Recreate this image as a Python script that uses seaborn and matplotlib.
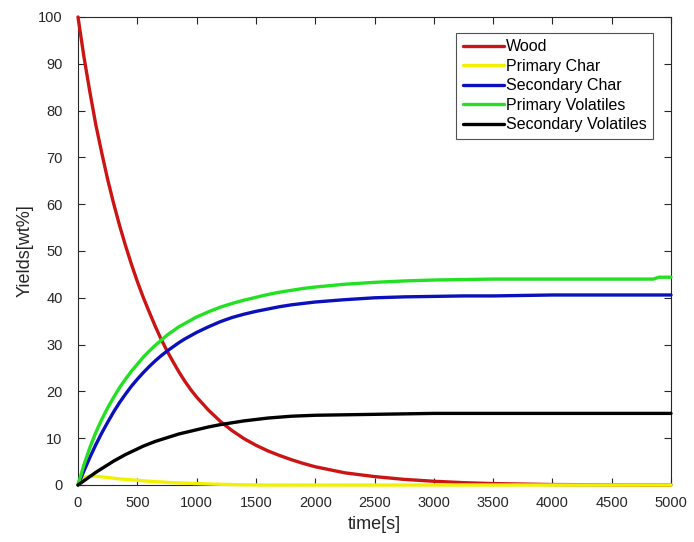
import matplotlib
matplotlib.use("Agg")
import matplotlib.pyplot as plt
import seaborn as sns
import pandas as pd

# Sampling times [s]
time_s = [0, 50, 100, 150, 200, 250, 300, 350, 400, 450, 500, 550, 600, 650,
          700, 750, 800, 850, 900, 950, 1000,
          1100, 1200, 1300, 1400, 1500, 1600, 1700, 1800, 1900, 2000,
          2250, 2500, 2750, 3000, 3250, 3500, 4000, 4500, 4850, 4900, 5000]

# Product yields [wt%]
wood = [100, 91.5, 84.0, 77.0, 71.0, 65.3, 60.2, 55.5, 51.2, 47.2, 43.5,
        40.1, 37.0, 34.0, 31.2, 28.7, 26.4, 24.2, 22.2, 20.4, 18.8,
        16.0, 13.6, 11.6, 9.9, 8.5, 7.3, 6.3, 5.4, 4.6, 3.9,
        2.6, 1.8, 1.2, 0.8, 0.5, 0.3, 0.1, 0.03, 0, 0, 0]
primary_char = [0, 1.6, 1.9, 1.85, 1.75, 1.6, 1.45, 1.3, 1.2, 1.1, 1.0,
                0.9, 0.8, 0.72, 0.65, 0.57, 0.5, 0.45, 0.4, 0.35, 0.3,
                0.22, 0.15, 0.1, 0.05, 0.02, 0, 0, 0, 0, 0,
                0, 0, 0, 0, 0, 0, 0, 0, 0, 0, 0]
secondary_char = [0, 3.0, 5.9, 8.6, 11.1, 13.4, 15.6, 17.6, 19.4, 21.1, 22.6,
                  24.0, 25.3, 26.5, 27.6, 28.6, 29.5, 30.4, 31.2, 31.9, 32.6,
                  33.8, 34.9, 35.8, 36.5, 37.1, 37.6, 38.1, 38.5, 38.8, 39.1,
                  39.6, 40.0, 40.2, 40.3, 40.4, 40.4, 40.6, 40.6, 40.6, 40.6,
                  40.6]
primary_volatiles = [0, 4.3, 8.0, 11.2, 14.0, 16.5, 18.7, 20.8, 22.6, 24.3,
                     25.8, 27.3, 28.6, 29.8, 30.9, 32.0, 32.9, 33.8, 34.5,
                     35.2, 35.9,
                     37.0, 38.0, 38.8, 39.5, 40.1, 40.7, 41.2, 41.6, 42.0,
                     42.3,
                     42.9, 43.3, 43.6, 43.8, 43.9, 44.0, 44.0, 44.0, 44.0,
                     44.4, 44.4]
secondary_volatiles = [0, 0.9, 1.8, 2.7, 3.5, 4.3, 5.1, 5.8, 6.5, 7.1, 7.7,
                       8.3, 8.8, 9.3, 9.7, 10.1, 10.5, 10.9, 11.2, 11.5, 11.8,
                       12.4, 12.9, 13.3, 13.7, 14.0, 14.3, 14.5, 14.7, 14.8,
                       14.9,
                       15.0, 15.1, 15.2, 15.3, 15.3, 15.3, 15.3, 15.3, 15.3,
                       15.3, 15.3]

series_names = ["Wood", "Primary Char", "Secondary Char",
                "Primary Volatiles", "Secondary Volatiles"]
series_values = [wood, primary_char, secondary_char,
                 primary_volatiles, secondary_volatiles]
colors = ["#cc1414", "#f2f200", "#0a10bb", "#22e022", "#000000"]

x_ticks = [0, 500, 1000, 1500, 2000, 2500, 3000, 3500, 4000, 4500, 5000]
y_ticks = [0, 10, 20, 30, 40, 50, 60, 70, 80, 90, 100]

frames = []
for name, vals in zip(series_names, series_values):
    frames.append(pd.DataFrame({"time": time_s, "yield": vals, "series": name}))
df = pd.concat(frames, ignore_index=True)

sns.set_theme(style="white")
plt.rcParams["font.family"] = ["Liberation Sans", "DejaVu Sans"]

fig = plt.figure(figsize=(6.94, 5.42), dpi=100)
ax = fig.add_axes([78 / 694, 1 - 485 / 542, (671 - 78) / 694, (485 - 17) / 542])

sns.lineplot(data=df, x="time", y="yield", hue="series",
             hue_order=series_names,
             palette=dict(zip(series_names, colors)),
             linewidth=2.4, ax=ax, legend=True, sort=False)
for ln in ax.get_lines():
    ln.set_clip_on(False)
    ln.set_zorder(3)
    ln.set_solid_joinstyle("round")

ax.set_xlim(0, 5000)
ax.set_ylim(0, 100)
ax.set_xticks(x_ticks)
ax.set_yticks(y_ticks)
ax.set_xticklabels([str(v) for v in x_ticks])
ax.set_yticklabels([str(v) for v in y_ticks])

axis_color = "#262626"
for side in ["top", "bottom", "left", "right"]:
    ax.spines[side].set_visible(True)
    ax.spines[side].set_color(axis_color)
    ax.spines[side].set_linewidth(0.8)
ax.tick_params(axis="both", which="both", direction="in", length=5,
               width=0.8, color=axis_color, labelcolor=axis_color,
               labelsize=10.5, top=True, right=True, bottom=True, left=True)
ax.tick_params(axis="x", pad=8)
ax.tick_params(axis="y", pad=11)

ax.set_xlabel("time[s]", fontsize=13, color=axis_color, labelpad=4)
ax.set_ylabel("Yields[wt%]", fontsize=13, color=axis_color, labelpad=3)

leg = ax.legend(loc="upper right", bbox_to_anchor=(0.9696, 0.9658),
                fontsize=11.5, frameon=True, fancybox=False,
                handlelength=2.6, handletextpad=0.1, borderpad=0.4,
                labelspacing=0.28, borderaxespad=0.0)
leg.get_frame().set_edgecolor(axis_color)
leg.get_frame().set_linewidth(0.8)
for h in leg.get_lines():
    h.set_linewidth(2.4)
for t in leg.get_texts():
    t.set_color("#000000")

fig.savefig("out.png", dpi=100)
